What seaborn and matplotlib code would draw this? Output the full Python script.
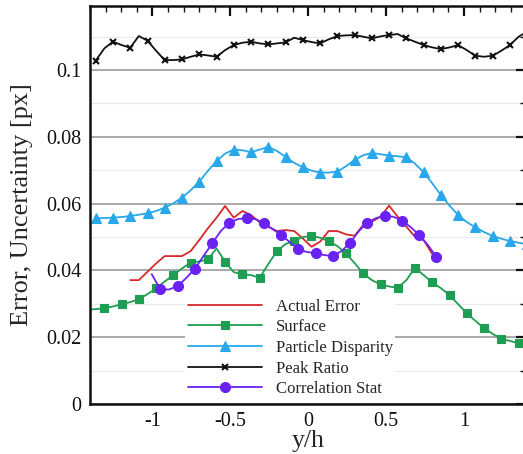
import numpy as np
import pandas as pd
import matplotlib
matplotlib.use("Agg")
import matplotlib.pyplot as plt
from matplotlib.ticker import MultipleLocator, FixedLocator, FuncFormatter
import seaborn as sns

# ---------------- data ----------------
# common sampling grid of y/h (index 0 -> first value)
y_h_grid = [-1.419, -1.364, -1.308, -1.253, -1.197, -1.142, -1.087, -1.031, -0.976, -0.921,
            -0.865, -0.810, -0.754, -0.699, -0.644, -0.588, -0.533, -0.478, -0.422, -0.367,
            -0.311, -0.256, -0.201, -0.145, -0.090, -0.035, 0.021, 0.076, 0.131, 0.187,
            0.242, 0.298, 0.353, 0.408, 0.464, 0.519, 0.574, 0.630, 0.685, 0.741,
            0.796, 0.851, 0.907, 0.962, 1.017, 1.073, 1.128, 1.184, 1.239, 1.294,
            1.350, 1.405]

actual_x = y_h_grid[5:41]
actual_error = [0.0371, 0.0371, 0.0396, 0.0421, 0.0443, 0.0443, 0.0443, 0.0458, 0.0491, 0.0526,
                0.0558, 0.0593, 0.0558, 0.0578, 0.0566, 0.0544, 0.0531, 0.0518, 0.0521, 0.0518,
                0.0496, 0.0471, 0.0486, 0.0518, 0.0518, 0.0508, 0.0504, 0.0536, 0.0546, 0.0561,
                0.0594, 0.0561, 0.0531, 0.0501, 0.0491, 0.0449]

surface_x = y_h_grid[0:52]
surface = [0.0283, 0.0284, 0.0287, 0.0292, 0.0299, 0.0305, 0.0314, 0.0329, 0.0346, 0.0367,
           0.0386, 0.0406, 0.0423, 0.0427, 0.0433, 0.0466, 0.0426, 0.0395, 0.0388, 0.0386,
           0.0378, 0.0419, 0.0458, 0.0479, 0.0488, 0.0500, 0.0503, 0.0498, 0.0488, 0.0473,
           0.0451, 0.0422, 0.0391, 0.0371, 0.0358, 0.0352, 0.0348, 0.0371, 0.0408, 0.0386,
           0.0364, 0.0347, 0.0326, 0.0299, 0.0272, 0.0249, 0.0227, 0.0210, 0.0195, 0.0189,
           0.0182, 0.0180]

disparity_x = y_h_grid[1:52]
particle_disparity = [0.0556, 0.0557, 0.0558, 0.0560, 0.0563, 0.0567, 0.0571, 0.0578, 0.0588, 0.0601,
                      0.0618, 0.0640, 0.0666, 0.0698, 0.0728, 0.0750, 0.0762, 0.0760, 0.0754, 0.0762,
                      0.0770, 0.0758, 0.0740, 0.0722, 0.0709, 0.0699, 0.0693, 0.0693, 0.0696, 0.0712,
                      0.0731, 0.0745, 0.0752, 0.0748, 0.0744, 0.0742, 0.0739, 0.0720, 0.0694, 0.0661,
                      0.0626, 0.0594, 0.0566, 0.0545, 0.0529, 0.0515, 0.0503, 0.0495, 0.0488, 0.0483,
                      0.0478]

peak_x = y_h_grid[1:52]
peak_ratio = [0.1028, 0.1065, 0.1085, 0.1075, 0.1067, 0.1102, 0.1088, 0.1058, 0.1030, 0.1030,
              0.1032, 0.1040, 0.1047, 0.1044, 0.1040, 0.1060, 0.1075, 0.1082, 0.1085, 0.1080,
              0.1077, 0.1080, 0.1083, 0.1097, 0.1090, 0.1084, 0.1080, 0.1092, 0.1102, 0.1104,
              0.1105, 0.1100, 0.1095, 0.1101, 0.1105, 0.1108, 0.1095, 0.1085, 0.1075, 0.1068,
              0.1063, 0.1068, 0.1075, 0.1060, 0.1043, 0.1040, 0.1043, 0.1058, 0.1075, 0.1100,
              0.1115]

corr_x = [-1.004, -0.949, -0.893, -0.838, -0.783, -0.727, -0.672, -0.616, -0.561, -0.506,
          -0.450, -0.395, -0.340, -0.284, -0.229, -0.173, -0.118, -0.063, -0.007, 0.048,
          0.103, 0.159, 0.214, 0.269, 0.325, 0.380, 0.436, 0.491, 0.546, 0.602,
          0.657, 0.712, 0.768, 0.823]
correlation_stat = [0.0389, 0.0343, 0.0343, 0.0353, 0.0377, 0.0405, 0.0443, 0.0481, 0.0518, 0.0543,
                    0.0554, 0.0556, 0.0554, 0.0541, 0.0524, 0.0506, 0.0485, 0.0464, 0.0455, 0.0452,
                    0.0446, 0.0443, 0.0458, 0.0483, 0.0518, 0.0543, 0.0557, 0.0563, 0.0561, 0.0549,
                    0.0530, 0.0506, 0.0476, 0.0440]

series_names = ["Actual Error", "Surface", "Particle Disparity", "Peak Ratio", "Correlation Stat"]
x_ticks = [-1, -0.5, 0, 0.5, 1]
y_ticks = [0, 0.02, 0.04, 0.06, 0.08, 0.1]

# ---------------- style ----------------
sns.set_style("white")
plt.rcParams["font.family"] = ["Liberation Serif", "DejaVu Serif"]
plt.rcParams["axes.unicode_minus"] = False

fig = plt.figure(figsize=(5.23, 4.54), dpi=100)
W, H = 523, 454
left_px, right_px, top_px, bottom_px = 90.0, 526.4, 6.0, 404.0
ax = fig.add_axes([left_px / W, (H - bottom_px) / H,
                   (right_px - left_px) / W, (bottom_px - top_px) / H])

styles = [
    dict(x=actual_x, y=actual_error, color="#d8272b", marker=None, ms=0, me=None),
    dict(x=surface_x, y=surface, color="#1e9e52", marker="s", ms=6.2, me=slice(2, None, 2)),
    dict(x=disparity_x, y=particle_disparity, color="#28a8ea", marker="^", ms=7.0, me=slice(0, None, 2)),
    dict(x=peak_x, y=peak_ratio, color="#111111", marker="x", ms=5.0, me=slice(0, None, 2)),
    dict(x=corr_x, y=correlation_stat, color="#6a22f2", marker="o", ms=7.2, me=slice(1, None, 2)),
]

for name, st in zip(series_names, styles):
    df = pd.DataFrame({"y/h": st["x"], "value": st["y"]})
    kw = dict(lw=1.3)
    if st["marker"] is not None:
        kw.update(marker=st["marker"], markersize=st["ms"], markevery=st["me"],
                  markeredgecolor=st["color"], markerfacecolor=st["color"],
                  markeredgewidth=1.5 if st["marker"] == "x" else 0.8)
    sns.lineplot(data=df, x="y/h", y="value", ax=ax, color=st["color"], label=name,
                 sort=False, estimator=None, legend=False, **kw)

ax.set_xlim(-1.4, 1.4)
ax.set_ylim(0, 0.1192)

ax.xaxis.set_major_locator(FixedLocator(x_ticks))
ax.yaxis.set_major_locator(FixedLocator(y_ticks))
ax.xaxis.set_minor_locator(MultipleLocator(0.1))
ax.yaxis.set_minor_locator(MultipleLocator(0.01))
fmt = FuncFormatter(lambda v, p: ("%g" % v))
ax.xaxis.set_major_formatter(fmt)
ax.yaxis.set_major_formatter(fmt)

ax.yaxis.grid(True, which="major", color="#aaaaaa", lw=1.4, zorder=0)
ax.yaxis.grid(True, which="minor", color="#ebebeb", lw=0.8, zorder=0)
ax.xaxis.grid(False, which="both")
ax.set_axisbelow(True)

ax.tick_params(which="both", direction="in", top=True, right=True, colors="#111111")
ax.tick_params(which="major", length=7, width=1.6, labelsize=14.5, pad=6)
ax.tick_params(which="minor", length=4, width=1.0)
for s in ax.spines.values():
    s.set_linewidth(1.8)
    s.set_color("#111111")

ax.set_xlabel("y/h", fontsize=18.5, labelpad=-1)
ax.set_ylabel("Error, Uncertainty [px]", fontsize=19, labelpad=10)

handles, labels = ax.get_legend_handles_labels()
leg = ax.legend(handles, labels, loc="upper left",
                bbox_to_anchor=((185 - left_px) / (right_px - left_px),
                                (bottom_px - 296) / (bottom_px - top_px)),
                fontsize=12.1, handlelength=4.45, handletextpad=0.8, labelspacing=0.28,
                borderpad=0.15, borderaxespad=0, frameon=True, fancybox=False,
                framealpha=1.0, facecolor="white", edgecolor="white")
leg.get_frame().set_linewidth(0)

fig.savefig("out.png", dpi=100)
